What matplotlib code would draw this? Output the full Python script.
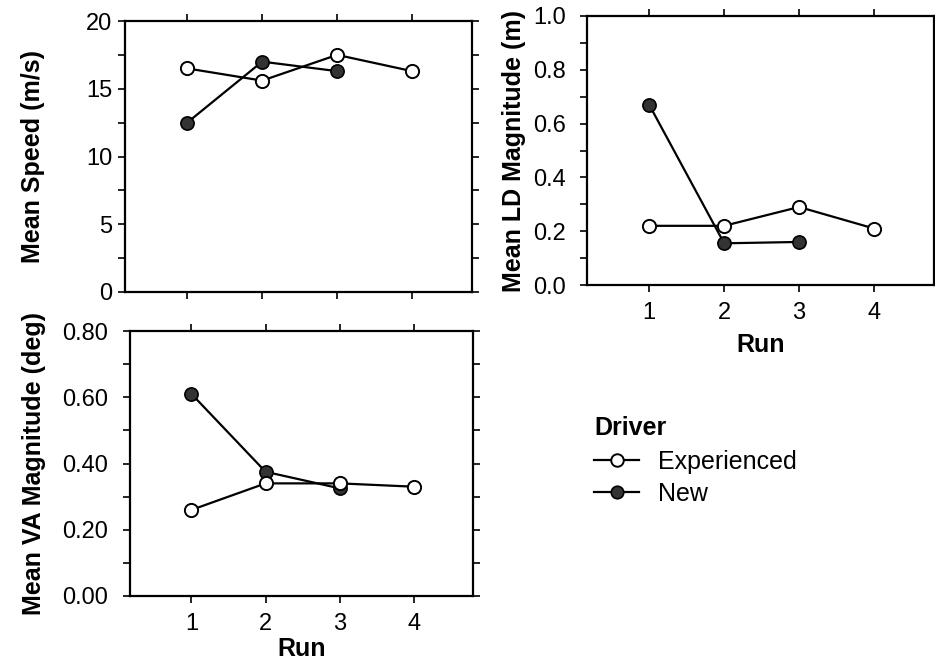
import matplotlib
matplotlib.use('Agg')
import matplotlib.pyplot as plt
from matplotlib.ticker import MultipleLocator, FixedLocator
from matplotlib.lines import Line2D

plt.rcParams['font.family'] = ['Liberation Sans', 'DejaVu Sans']

runs = [1, 2, 3, 4]
runs_new = [1, 2, 3]

speed_exp = [16.5, 15.6, 17.5, 16.3]
speed_new = [12.5, 17.0, 16.3]

ld_exp = [0.22, 0.22, 0.29, 0.21]
ld_new = [0.67, 0.155, 0.16]

va_exp = [0.26, 0.34, 0.34, 0.33]
va_new = [0.61, 0.375, 0.325]

W, H = 935, 660
fig = plt.figure(figsize=(9.35, 6.6), dpi=100)

TICK_FS = 17
LABEL_FS = 18


def px_axes(left, top, right, bottom):
    return fig.add_axes([left / W, 1 - bottom / H, (right - left) / W, (bottom - top) / H])


def style(ax, ylim, major, minor, fmt, show_x, ypad, xlabelpad=2):
    ax.set_xlim(0.17, 4.8)
    ax.set_ylim(*ylim)
    ax.xaxis.set_major_locator(FixedLocator(runs))
    ax.yaxis.set_major_locator(MultipleLocator(major))
    ax.yaxis.set_minor_locator(MultipleLocator(minor))
    ax.yaxis.set_major_formatter(fmt)
    ax.tick_params(axis='both', which='both', direction='out', labelsize=TICK_FS,
                   width=1.2, top=True, right=True, length=5)
    ax.tick_params(axis='y', which='major', pad=ypad)
    ax.tick_params(axis='x', which='major', pad=7, labelbottom=show_x)
    for s in ax.spines.values():
        s.set_linewidth(1.6)
    if show_x:
        ax.set_xlabel('Run', fontsize=LABEL_FS, fontweight='bold', labelpad=xlabelpad)


def draw(ax, exp, new):
    ax.plot(runs_new, new, '-o', color='black', lw=1.6, ms=9.5,
            mfc='#333333', mec='black', mew=1.2, zorder=3)
    ax.plot(runs, exp, '-o', color='black', lw=1.6, ms=9.5,
            mfc='white', mec='black', mew=1.4, zorder=4)


ax1 = px_axes(125, 21, 472, 292)
draw(ax1, speed_exp, speed_new)
style(ax1, (0, 20), 5, 2.5, '{x:g}', False, 4)
ax1.set_ylabel('Mean Speed (m/s)', fontsize=LABEL_FS, fontweight='bold', labelpad=30)

ax2 = px_axes(587, 16, 934, 285)
draw(ax2, ld_exp, ld_new)
style(ax2, (0, 1.0), 0.2, 0.1, '{x:.1f}', True, 10, xlabelpad=7)
ax2.set_ylabel('Mean LD Magnitude (m)', fontsize=LABEL_FS, fontweight='bold', labelpad=5)

ax3 = px_axes(130, 331, 473, 596)
draw(ax3, va_exp, va_new)
style(ax3, (0, 0.8), 0.2, 0.1, '{x:.2f}', True, 11)
ax3.set_ylabel('Mean VA Magnitude (deg)', fontsize=LABEL_FS, fontweight='bold', labelpad=11)

# legend: title as separate text so its gap matches the reference
fig.text(594 / W, 1 - 428 / H, 'Driver', fontsize=LABEL_FS, fontweight='bold',
         ha='left', va='center')
handles = [
    Line2D([], [], color='black', lw=1.6, marker='o', ms=9, mfc='white', mec='black', mew=1.4),
    Line2D([], [], color='black', lw=1.6, marker='o', ms=9, mfc='#333333', mec='black', mew=1.2),
]
fig.legend(handles, ['Experienced', 'New'], loc='upper left',
           bbox_to_anchor=(594 / W, 1 - 450 / H), frameon=False, fontsize=LABEL_FS,
           handlelength=1.8, handletextpad=0.75, labelspacing=0.32,
           borderaxespad=0, borderpad=0)

fig.savefig('out.png', dpi=100)
